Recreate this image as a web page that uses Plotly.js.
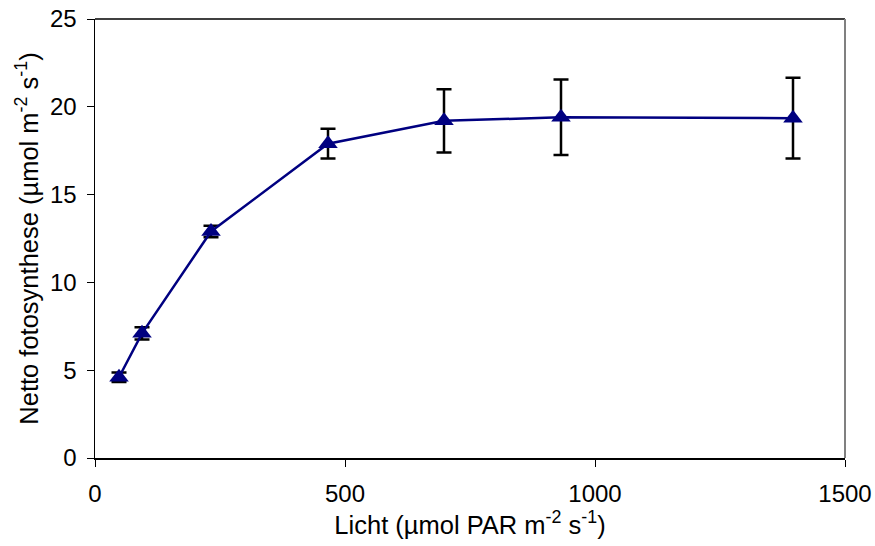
<!DOCTYPE html>
<html>
<head>
<meta charset="utf-8">
<script src="https://cdn.plot.ly/plotly-3.0.1.min.js"></script>
<style>html,body{margin:0;padding:0;background:#fff;}#chart{width:875px;height:546px;}</style>
</head>
<body>
<div id="chart"></div>
<script>
const light = [48, 94, 232, 466, 698, 932, 1396];
const photosynthesis = [4.6, 7.1, 12.9, 17.9, 19.2, 19.4, 19.35];
const errors = [0.27, 0.35, 0.33, 0.85, 1.8, 2.15, 2.3];
const xTicks = [0, 500, 1000, 1500];
const yTicks = [0, 5, 10, 15, 20, 25];

const tickFont = {family: 'Liberation Sans, Arial, sans-serif', size: 24, color: '#000'};
const titleFont = {family: 'Liberation Sans, Arial, sans-serif', size: 25.5, color: '#000'};

const trace = {
  x: light, y: photosynthesis, type: 'scatter', mode: 'lines+markers',
  line: {color: '#000080', width: 2.5},
  marker: {symbol: 'triangle-up', size: 17, color: '#000080'},
  error_y: {type: 'data', array: errors, visible: true, color: '#000', thickness: 2.5, width: 7.5},
  showlegend: false, hoverinfo: 'x+y'
};

const layout = {
  width: 875, height: 546,
  margin: {l: 95, r: 30, t: 19, b: 88},
  paper_bgcolor: '#fff', plot_bgcolor: '#fff',
  font: tickFont,
  xaxis: {
    range: [0, 1500], tickvals: xTicks, ticktext: xTicks.map(String),
    showgrid: false, zeroline: false, showline: true, linecolor: '#000', linewidth: 1.5,
    ticks: 'outside', ticklen: 7, tickcolor: '#000', tickwidth: 1,
    tickfont: tickFont, ticklabelstandoff: 7,
    title: {text: 'Licht (µmol PAR m<sup>-2</sup> s<sup>-1</sup>)', font: titleFont, standoff: 6}
  },
  yaxis: {
    range: [0, 25], tickvals: yTicks, ticktext: yTicks.map(String),
    showgrid: false, zeroline: false, showline: true, linecolor: '#000', linewidth: 1.5,
    ticks: 'outside', ticklen: 7, tickcolor: '#000', tickwidth: 1,
    tickfont: tickFont, ticklabelstandoff: 5,
    title: {text: 'Netto fotosynthese (µmol m<sup>-2</sup> s<sup>-1</sup>)', font: titleFont, standoff: 4}
  },
  shapes: [
    {type: 'line', xref: 'paper', yref: 'paper', x0: 0, x1: 1, y0: 1, y1: 1, line: {color: '#000', width: 1.5}},
    {type: 'line', xref: 'paper', yref: 'paper', x0: 1, x1: 1, y0: 0, y1: 1, line: {color: '#808080', width: 2}}
  ]
};

Plotly.newPlot('chart', [trace], layout, {displayModeBar: false, staticPlot: true});
</script>
</body>
</html>
